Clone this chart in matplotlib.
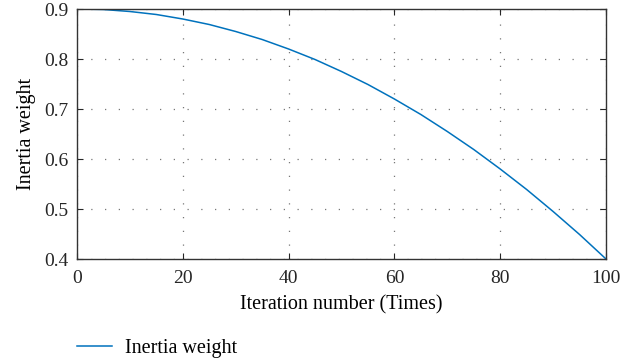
import numpy as np
import matplotlib.pyplot as plt
from matplotlib.lines import Line2D

# values
iterations = [0, 5, 10, 15, 20, 25, 30, 35, 40, 45, 50,
              55, 60, 65, 70, 75, 80, 85, 90, 95, 100]
inertia = [0.900, 0.899, 0.895, 0.889, 0.880, 0.869, 0.855, 0.839, 0.820, 0.799, 0.775,
           0.749, 0.720, 0.689, 0.655, 0.619, 0.580, 0.539, 0.495, 0.449, 0.400]

plt.rcParams['font.family'] = ['Liberation Serif', 'DejaVu Serif']
plt.rcParams['font.size'] = 14

fig = plt.figure(figsize=(6.4, 3.63), dpi=100)
ax = fig.add_axes([0.1203, 0.2865, 0.8266, 0.6887])

ax.plot(iterations, inertia, color='#0072BD', lw=1.1)

ax.set_xlim(0, 100)
ax.set_ylim(0.4, 0.9)
ax.set_xticks([0, 20, 40, 60, 80, 100])
ax.set_yticks([0.4, 0.5, 0.6, 0.7, 0.8, 0.9])
ax.tick_params(direction='in', top=True, right=True, length=4, width=0.8,
               colors='#262626', labelsize=14)
ax.tick_params(axis='x', pad=8)
ax.tick_params(axis='y', pad=6)
ax.grid(True, linestyle=(0, (1, 10)), color='#777777', lw=0.9)
for s in ax.spines.values():
    s.set_color('#333333')
    s.set_linewidth(1.0)

ax.set_xlabel('Iteration number (Times)', labelpad=6, fontsize=14.5)
ax.set_ylabel('Inertia weight', labelpad=6, fontsize=14.5)

h = Line2D([], [], color='#0072BD', lw=1.1)
fig.legend([h], ['Inertia weight'], loc='center left', bbox_to_anchor=(0.092, 0.04),
           frameon=False, handlelength=1.75, handletextpad=0.65, fontsize=14.5)

fig.savefig('out.png', dpi=100)
